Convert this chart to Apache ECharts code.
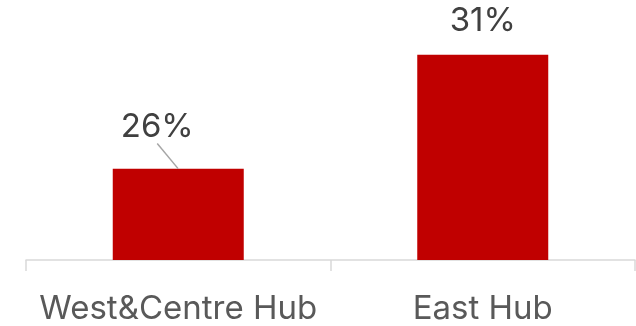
<!DOCTYPE html>
<html>
<head>
<meta charset="utf-8">
<script src="https://cdn.jsdelivr.net/npm/echarts@6/dist/echarts.min.js"></script>
<style>
  html, body { margin: 0; padding: 0; background: #fff; }
  #chart { width: 636px; height: 326px; }
</style>
</head>
<body>
<div id="chart"></div>
<script>
  // data
  const categories = ['West&Centre Hub', 'East Hub'];
  const shares = [26, 31];

  const labelStyle = {
    show: true,
    position: 'top',
    distance: 17,
    color: '#404040',
    fontFamily: 'Inter',
    fontSize: 33,
    formatter: p => p.value + '%'
  };

  const chart = echarts.init(document.getElementById('chart'));

  chart.setOption({
    animation: false,
    grid: { left: 26, right: 1, top: 32, bottom: 64 },
    xAxis: {
      type: 'category',
      data: categories,
      axisLine: { lineStyle: { color: '#d9d9d9', width: 1.5 } },
      axisTick: { show: true, length: 11, lineStyle: { color: '#d9d9d9', width: 1.5 } },
      axisLabel: {
        interval: 0,
        color: '#595959',
        fontFamily: 'Inter',
        fontSize: 33,
        margin: 33
      }
    },
    yAxis: {
      type: 'value',
      min: 22,
      max: 32,
      show: false,
      splitLine: { show: false }
    },
    series: [
      {
        type: 'bar',
        barWidth: 131,
        itemStyle: { color: '#c00000' },
        // first bar gets its label from the helper series below
        data: shares.map((v, i) => ({ value: v, label: { show: i !== 0 } })),
        label: labelStyle
      },
      {
        // invisible points on the bar tops so the leader line points at the bar centre
        type: 'scatter',
        symbolSize: 0.5,
        itemStyle: { color: 'rgba(0,0,0,0)', opacity: 1 },
        silent: true,
        data: shares.map((v, i) => ({
          value: v,
          label: { show: i === 0 },
          labelLine: { show: i === 0 }
        })),
        label: Object.assign({}, labelStyle, { padding: [0, 0, 20, 0] }),
        labelLayout: p => p.dataIndex === 0 ? { dx: -21, dy: 12 } : {},
        labelLine: { show: true, lineStyle: { color: '#a6a6a6', width: 1.5 } }
      }
    ]
  });
</script>
</body>
</html>
